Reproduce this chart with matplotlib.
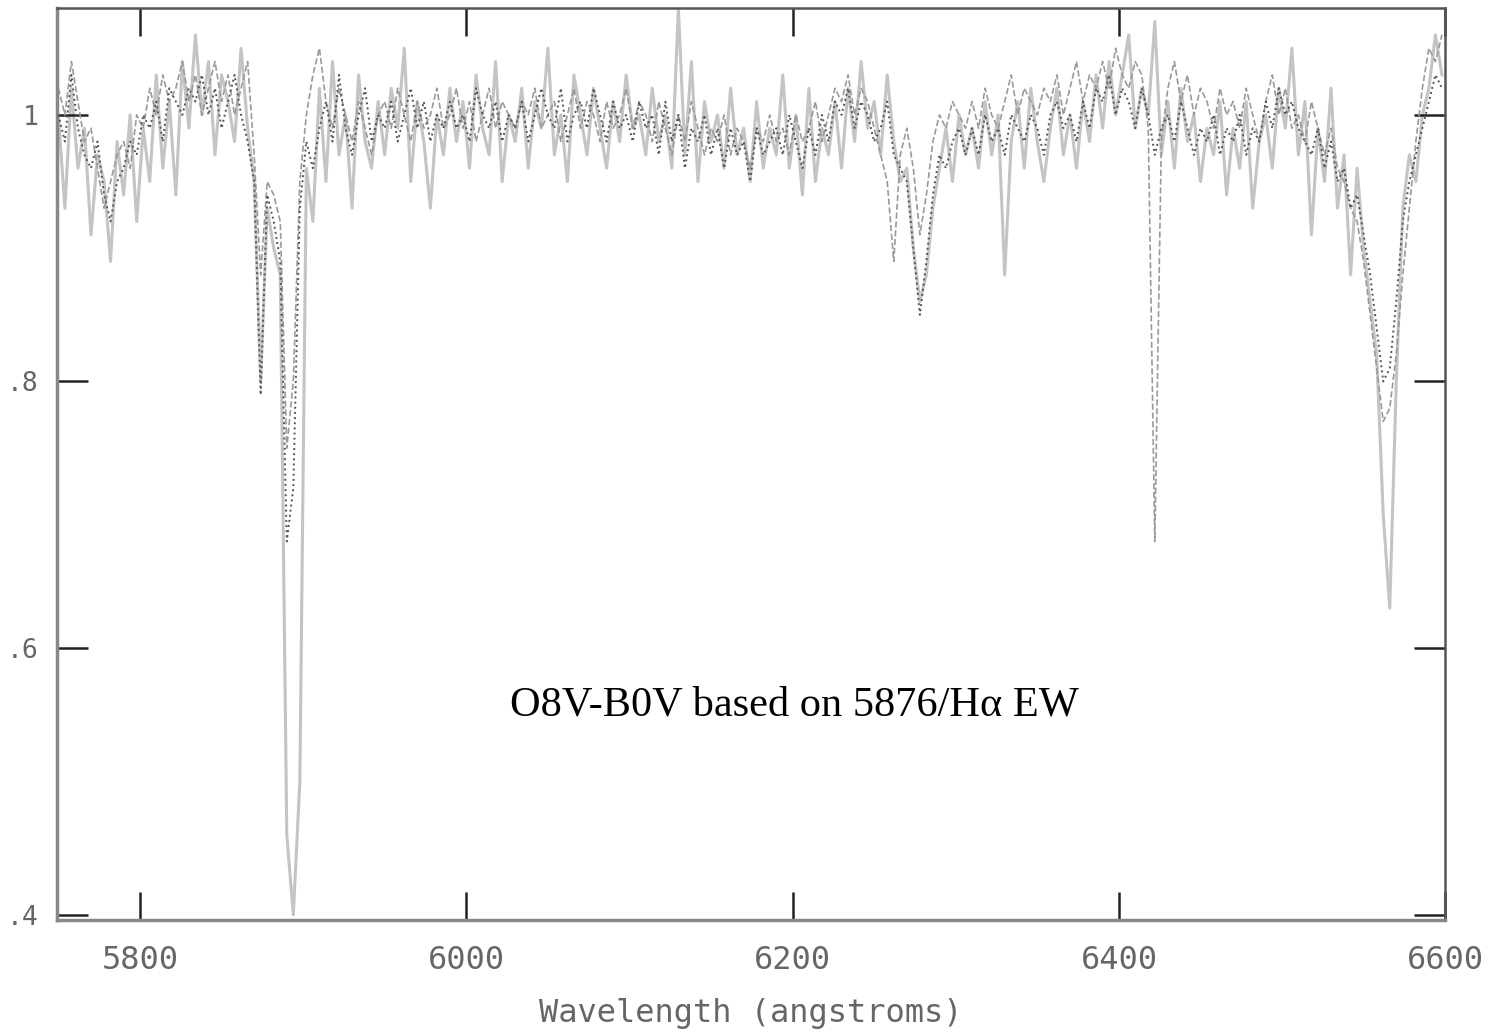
import numpy as np
import matplotlib
matplotlib.use("Agg")
import matplotlib.pyplot as plt

# wavelength grid of the three overplotted spectra (angstroms)
wavelength = np.arange(5750, 6601, 4)

# solid light-gray spectrum (noisiest)
flux_solid = [
    1.00, 0.93, 1.02, 0.96, 0.99, 0.91, 0.97, 0.95, 0.89, 0.98,
    0.94, 1.00, 0.92, 0.99, 0.95, 1.03, 0.96, 1.01, 0.94, 1.04,
    0.99, 1.06, 1.00, 1.04, 0.97, 1.03, 1.01, 0.98, 1.05, 0.99,
    0.95, 0.80, 0.93, 0.90, 0.88, 0.46, 0.40, 0.50, 0.96, 0.92,
    1.02, 0.95, 1.04, 0.97, 1.00, 0.93, 1.03, 0.98, 0.96, 1.01,
    0.97, 1.02, 0.99, 1.05, 0.95, 1.01, 0.98, 0.93, 1.00, 0.97,
    1.02, 0.98, 1.01, 0.96, 1.03, 0.99, 0.97, 1.04, 0.95, 1.00,
    0.98, 1.02, 0.96, 1.01, 0.99, 1.05, 0.97, 1.00, 0.95, 1.03,
    1.00, 0.97, 1.02, 0.99, 0.96, 1.01, 0.98, 1.03, 0.99, 1.00,
    0.97, 1.02, 0.98, 1.00, 0.96, 1.08, 0.97, 1.04, 0.95, 1.01,
    0.98, 1.00, 0.96, 1.02, 0.97, 0.99, 0.95, 1.01, 0.96, 0.99,
    0.97, 1.03, 0.96, 1.00, 0.94, 1.02, 0.95, 0.99, 0.97, 1.01,
    0.96, 1.02, 0.98, 1.04, 0.99, 1.01, 0.97, 1.03, 0.98, 0.95,
    0.96, 0.90, 0.86, 0.88, 0.93, 0.96, 0.99, 0.95, 1.00, 0.97,
    0.99, 0.96, 1.01, 0.97, 1.00, 0.88, 0.98, 1.01, 0.96, 1.02,
    0.98, 0.95, 0.99, 1.02, 0.97, 1.00, 0.96, 1.01, 0.98, 1.03,
    0.99, 1.04, 1.00, 1.03, 1.06, 0.99, 1.02, 1.00, 1.07, 0.97,
    1.01, 0.96, 1.02, 0.98, 1.00, 0.95, 0.99, 0.97, 1.01, 0.94,
    0.99, 0.96, 1.01, 0.93, 0.98, 1.00, 0.96, 1.02, 0.99, 1.05,
    0.97, 1.01, 0.91, 0.99, 0.95, 1.02, 0.93, 0.97, 0.88, 0.96,
    0.90, 0.86, 0.82, 0.70, 0.63, 0.80, 0.93, 0.97, 0.95, 1.00,
    1.02, 1.06, 1.03,
]

# dotted dark spectrum
flux_dotted = [
    1.00, 0.98, 1.03, 0.99, 0.97, 0.96, 0.98, 0.94, 0.92, 0.95,
    0.96, 0.98, 0.97, 1.00, 0.99, 1.01, 0.98, 1.02, 1.01, 1.00,
    1.02, 1.01, 1.03, 1.00, 1.02, 0.99, 1.01, 1.03, 1.00, 0.98,
    0.95, 0.79, 0.94, 0.92, 0.89, 0.68, 0.72, 0.93, 0.98, 0.96,
    0.99, 1.01, 0.98, 1.03, 0.99, 0.97, 1.00, 1.02, 0.98, 1.00,
    0.99, 1.01, 0.98, 1.00, 1.02, 0.99, 1.01, 0.98, 1.00, 0.99,
    1.01, 0.99, 1.00, 0.98, 1.02, 1.00, 0.99, 1.01, 0.98, 1.00,
    0.99, 1.01, 0.98, 1.00, 1.02, 1.00, 0.99, 1.02, 0.98, 1.00,
    1.01, 0.99, 1.02, 1.00, 0.98, 1.01, 0.99, 1.00, 0.98, 1.01,
    0.99, 1.00, 0.97, 1.01, 0.98, 1.00, 0.96, 0.99, 0.98, 1.00,
    0.97, 0.99, 0.96, 0.99, 0.97, 0.98, 0.95, 0.99, 0.97, 0.98,
    0.99, 0.97, 1.00, 0.98, 0.96, 0.99, 0.97, 1.00, 0.98, 1.01,
    1.00, 1.02, 0.99, 1.01, 1.00, 0.98, 0.99, 1.01, 0.97, 0.96,
    0.95, 0.90, 0.85, 0.89, 0.94, 0.97, 0.96, 0.98, 0.99, 0.97,
    0.99, 0.97, 1.00, 0.98, 0.99, 0.97, 1.00, 0.99, 0.98, 1.00,
    0.99, 0.97, 1.00, 1.01, 0.99, 1.00, 0.98, 1.01, 0.99, 1.02,
    1.01, 1.03, 1.00, 1.02, 1.01, 0.99, 1.02, 1.00, 0.97, 0.99,
    1.00, 0.98, 1.01, 0.99, 0.97, 0.99, 0.98, 1.00, 0.97, 0.99,
    0.98, 1.00, 0.97, 0.99, 0.98, 1.01, 0.99, 1.02, 1.00, 1.01,
    0.99, 0.98, 0.97, 0.99, 0.96, 0.98, 0.95, 0.96, 0.93, 0.94,
    0.91, 0.88, 0.84, 0.80, 0.81, 0.86, 0.92, 0.95, 0.97, 0.99,
    1.01, 1.03, 1.02,
]

# dashed medium-gray spectrum
flux_dashed = [
    1.02, 1.00, 1.04, 1.01, 0.98, 0.99, 0.96, 0.93, 0.95, 0.97,
    0.98, 0.96, 1.00, 0.99, 1.02, 1.00, 1.03, 1.01, 1.02, 1.04,
    1.01, 1.03, 1.00, 1.02, 1.04, 1.01, 1.03, 1.00, 1.02, 1.04,
    0.97, 0.88, 0.95, 0.94, 0.92, 0.75, 0.80, 0.95, 1.00, 1.03,
    1.05, 1.01, 0.99, 1.02, 1.00, 0.98, 1.01, 0.99, 0.97, 1.00,
    1.01, 0.99, 1.02, 1.00, 0.98, 1.01, 0.99, 1.00, 1.02, 0.99,
    1.00, 1.02, 0.99, 1.01, 0.98, 1.00, 1.02, 0.99, 1.01, 1.00,
    0.99, 1.01, 1.00, 1.02, 0.99, 1.00, 1.01, 0.98, 1.00, 1.02,
    0.99, 1.01, 1.00, 0.98, 1.01, 0.99, 1.00, 1.02, 0.99, 1.01,
    1.00, 0.98, 1.01, 0.99, 0.97, 1.00, 0.98, 1.01, 0.99, 0.97,
    0.99, 0.98, 1.00, 0.97, 0.99, 0.98, 0.96, 0.99, 0.98, 1.00,
    0.98, 0.99, 0.97, 1.00, 0.98, 0.99, 1.01, 0.98, 1.00, 1.02,
    1.01, 1.03, 1.00, 1.02, 1.01, 0.99, 0.97, 0.95, 0.89, 0.97,
    0.99, 0.96, 0.91, 0.94, 0.98, 1.00, 0.99, 1.01, 1.00, 0.99,
    1.01, 0.99, 1.02, 1.00, 0.99, 1.01, 1.03, 1.00, 1.02, 1.01,
    1.00, 1.02, 1.01, 1.03, 1.00, 1.02, 1.04, 1.01, 1.03, 1.02,
    1.04, 1.02, 1.05, 1.03, 1.02, 1.04, 1.03, 0.99, 0.68, 0.98,
    1.02, 1.04, 1.01, 1.03, 1.00, 1.02, 1.01, 0.99, 1.02, 1.00,
    1.01, 0.99, 1.02, 1.00, 0.98, 1.01, 1.03, 1.00, 1.02, 0.99,
    1.00, 0.98, 1.01, 0.99, 0.97, 0.99, 0.96, 0.95, 0.93, 0.92,
    0.89, 0.85, 0.81, 0.77, 0.78, 0.82, 0.88, 0.93, 0.98, 1.02,
    1.05, 1.04, 1.06,
]

x_ticks = [5800, 6000, 6200, 6400, 6600]
y_ticks = [0.4, 0.6, 0.8, 1.0]
y_tick_labels = [".4", ".6", ".8", "1"]

fig = plt.figure(figsize=(14.93, 10.32), dpi=100)
ax = fig.add_axes([0.038, 0.1085, 0.930, 0.8835])

ax.plot(wavelength, flux_solid, color="#c4c4c4", lw=2.2, zorder=1)
ax.plot(wavelength, flux_dashed, color="#9a9a9a", lw=1.2, ls="--", zorder=2)
ax.plot(wavelength, flux_dotted, color="#555555", lw=1.4, ls=":", zorder=3)

ax.set_xlim(5749, 6600)
ax.set_ylim(0.396, 1.08)

mono = "DejaVu Sans Mono"
ax.set_xticks(x_ticks)
ax.set_xticklabels([str(t) for t in x_ticks], family=mono, fontsize=23, color="#666666")
ax.set_yticks(y_ticks)
ax.set_yticklabels(y_tick_labels, family=mono, fontsize=19, color="#666666")
ax.tick_params(axis="x", direction="in", length=20, width=1.8, color="#222222",
               top=True, pad=18)
ax.tick_params(axis="y", direction="in", length=22, width=1.8, color="#222222",
               right=True, pad=13)

for side in ["left", "bottom"]:
    ax.spines[side].set_color("#888888")
    ax.spines[side].set_linewidth(2.5)
for side in ["top", "right"]:
    ax.spines[side].set_color("#555555")
    ax.spines[side].set_linewidth(1.8)

ax.set_xlabel("Wavelength (angstroms)", family=mono, fontsize=23, color="#666666",
              labelpad=16)

ax.text(6201, 0.557, "O8V-B0V based on 5876/H\u03b1 EW", family="Liberation Serif",
        fontsize=30.5, ha="center", va="center", color="black")

fig.savefig("out.png", dpi=100)
